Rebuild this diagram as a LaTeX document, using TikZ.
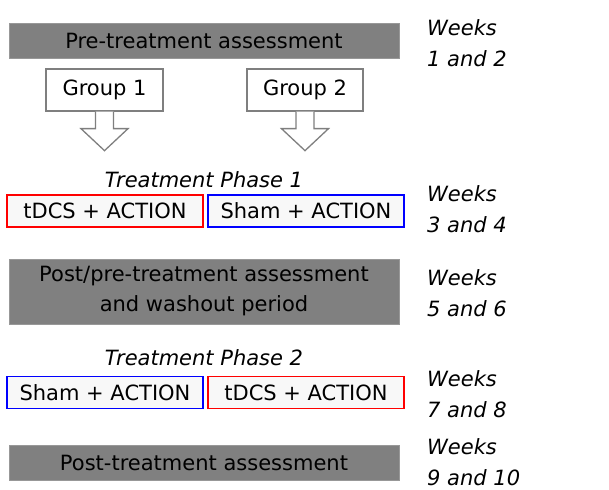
\documentclass[tikz,border=0pt]{standalone}
\usepackage{fontspec}
\setmainfont{DejaVu Sans}
\begin{document}
\begin{tikzpicture}[x=1pt,y=-1pt,
  every node/.style={font=\fontsize{21}{30}\selectfont},
  phasebox/.style={fill=boxgray,draw=boxedge,line width=0.8pt,minimum width=390,inner sep=0pt,align=center},
  groupbox/.style={draw=linegray,fill=white,line width=1.3pt,minimum width=117,minimum height=42,inner sep=0pt},
  blockarrow/.style={draw=linegray,fill=white,line width=1.3pt,line join=miter},
  armbox/.style={fill=armfill,line width=1.6pt,minimum width=196,minimum height=32,inner sep=0pt},
  tdcs/.style={armbox,draw=armred},
  sham/.style={armbox,draw=armblue},
  phaselabel/.style={font=\fontsize{21}{30}\selectfont\itshape,inner sep=0pt},
  weeks/.style={font=\fontsize{21}{31}\selectfont\itshape,align=left,inner sep=0pt,anchor=base west}
]
\definecolor{boxgray}{HTML}{808080}
\definecolor{boxedge}{HTML}{989898}
\definecolor{linegray}{HTML}{7F7F7F}
\definecolor{armfill}{HTML}{F8F8F8}
\definecolor{armred}{HTML}{FF0000}
\definecolor{armblue}{HTML}{0000FF}
\useasboundingbox (0,0) rectangle (609,489);

% assessment blocks
\node[phasebox,minimum height=35] (pre) at (204,40.5) {Pre-treatment assessment};
\node[phasebox,minimum height=65] (wash) at (204,291.5) {Post/pre-treatment assessment\\and washout period};
\node[phasebox,minimum height=35] (post) at (204,462.5) {Post-treatment assessment};

% groups
\node[groupbox] (g1) at (104.5,90) {Group 1};
\node[groupbox,minimum width=116] (g2) at (305,90) {Group 2};

% hollow block arrows under each group
\foreach \g in {g1,g2}{
  \draw[blockarrow] (\g.south) ++(-9,0) -- ++(0,17) -- ++(-14.5,0) -- ++(23.5,22)
    -- ++(23.5,-22) -- ++(-14.5,0) -- ++(0,-17);
}

% treatment phase 1
\node[phaselabel] (tp1) at (204,180) {Treatment Phase 1};
\node[tdcs] (a1) at (105,211) {tDCS + ACTION};
\node[sham] (b1) at (306,211) {Sham + ACTION};

% treatment phase 2
\node[phaselabel] (tp2) at (204,358) {Treatment Phase 2};
\node[sham] (a2) at (105,392.5) {Sham + ACTION};
\node[tdcs] (b2) at (306,392.5) {tDCS + ACTION};

% timeline (base anchor sits on the second line)
\node[weeks] (w1) at (427,67) {Weeks\\1 and 2};
\node[weeks] (w2) at (427,232) {Weeks\\3 and 4};
\node[weeks] (w3) at (427,316) {Weeks\\5 and 6};
\node[weeks] (w4) at (427,417) {Weeks\\7 and 8};
\node[weeks] (w5) at (427,485) {Weeks\\9 and 10};
\end{tikzpicture}
\end{document}
